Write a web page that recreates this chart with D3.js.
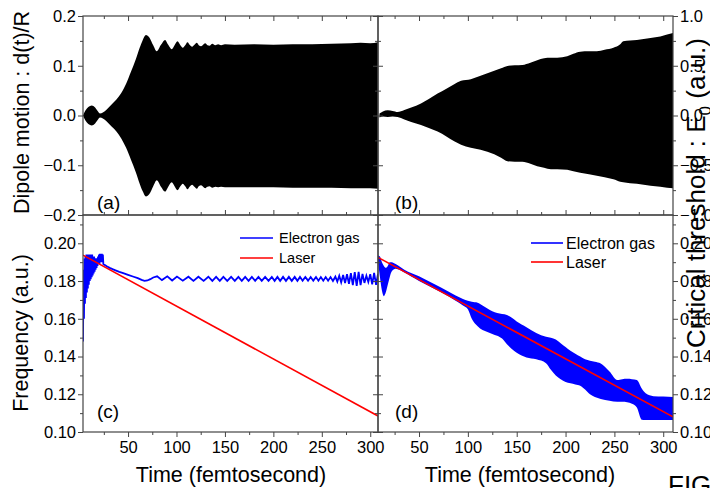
<!DOCTYPE html>
<html><head><meta charset="utf-8">
<script src="https://cdn.jsdelivr.net/npm/d3@7"></script>
<style>body{margin:0;background:#fff} svg{display:block} text{font-family:Arial,"Liberation Sans",sans-serif}</style>
</head><body><svg id="c" width="710" height="488"></svg>
<script>
// ---------- data ----------
const timeDomainLeft = [3.5, 308];
const timeDomainRight = [8, 310];
const dipoleDomain = [-0.2, 0.2];
const thresholdDomain = [-1, 1];
const freqDomain = [0.10, 0.215];

const timeTicks = [50, 100, 150, 200, 250, 300];
const timeMinor = [25, 75, 125, 175, 225, 275];
const dipoleTicks = [-0.2, -0.1, 0.0, 0.1, 0.2];
const dipoleMinor = [-0.15, -0.05, 0.05, 0.15];
const thresholdTicks = [-1.0, -0.5, 0.0, 0.5, 1.0];
const thresholdMinor = [-0.75, -0.25, 0.25, 0.75];
const freqTicks = [0.10, 0.12, 0.14, 0.16, 0.18, 0.20];
const freqMinor = [0.11, 0.13, 0.15, 0.17, 0.19, 0.21];

// (a) dipole envelope: [time, lower, upper]
const dipoleA = [
 [3.5,0,0],[6,-0.01,0.01],[9,-0.017,0.017],[12.5,-0.02,0.02],[16,-0.016,0.016],[19,-0.008,0.008],
 [21,-0.004,0.004],[24,-0.006,0.006],[28,-0.012,0.012],[33,-0.022,0.022],[38,-0.032,0.032],
 [43,-0.046,0.045],[48,-0.065,0.064],[53,-0.089,0.088],[58,-0.114,0.113],[62,-0.137,0.136],
 [65,-0.152,0.151],[68.5,-0.163,0.162],[72,-0.158,0.157],[76,-0.142,0.141],[79.6,-0.130,0.129],
 [84,-0.143,0.142],[88.2,-0.153,0.152],[91.5,-0.143,0.142],[95.1,-0.134,0.133],[98,-0.142,0.141],
 [101,-0.150,0.149],[104,-0.142,0.141],[106.5,-0.137,0.136],[109,-0.142,0.141],[111.3,-0.148,0.147],
 [114,-0.142,0.141],[116.1,-0.139,0.138],[118.5,-0.143,0.142],[121,-0.147,0.146],[123,-0.142,0.141],
 [125.4,-0.140,0.139],[127.5,-0.143,0.142],[129.6,-0.146,0.145],[132,-0.143,0.141],[134,-0.142,0.140],
 [137,-0.145,0.144],[140,-0.143,0.141],[143,-0.144,0.143],[146,-0.143,0.141],[150,-0.144,0.143],
 [160,-0.144,0.142],[180,-0.144,0.143],[200,-0.144,0.142],[220,-0.145,0.143],[240,-0.145,0.143],
 [260,-0.145,0.144],[280,-0.146,0.145],[290,-0.146,0.146],[300,-0.146,0.145],[308,-0.147,0.147]
];

// (b) dipole envelope: [time, lower, upper]
const dipoleB = [
 [9.5,-0.004,0.004],[13,-0.002,0.008],[18,-0.003,0.0105],[23,-0.002,0.009],[28,-0.003,0.007],
 [35,-0.008,0.011],[42,-0.013,0.016],[52,-0.019,0.024],[60,-0.025,0.033],[69,-0.032,0.044],
 [78,-0.042,0.054],[86,-0.052,0.063],[93,-0.059,0.070],[103,-0.065,0.073],[113,-0.069,0.080],
 [120,-0.073,0.085],[127,-0.078,0.090],[134,-0.085,0.095],[140.5,-0.092,0.0996],[148,-0.093,0.101],
 [155.8,-0.093,0.1016],[164,-0.097,0.106],[171,-0.102,0.111],[178,-0.105,0.115],[185,-0.108,0.116],
 [191.5,-0.108,0.116],[201.7,-0.109,0.119],[208,-0.112,0.124],[215,-0.115,0.128],[224,-0.118,0.129],
 [232,-0.121,0.129],[240,-0.124,0.132],[249,-0.128,0.136],[256,-0.133,0.143],[259,-0.134,0.149],
 [266,-0.136,0.151],[273,-0.137,0.152],[280,-0.139,0.154],[287,-0.141,0.156],[297,-0.143,0.159],
 [304,-0.145,0.163],[310,-0.146,0.166]
];

// (c) electron gas frequency: [time, frequency]
const electronC = [
 [3.5,0.148],[4,0.186],[4.5,0.160],[5,0.192],[5.5,0.168],[6,0.193],[6.5,0.171],[7,0.194],[7.5,0.174],
 [8,0.194],[8.5,0.176],[9,0.194],[9.5,0.178],[10,0.194],[10.5,0.180],[11,0.194],[11.5,0.181],[12,0.194],
 [12.5,0.182],[13,0.194],[13.5,0.183],[14,0.193],[14.5,0.184],[15,0.193],[15.5,0.185],[16,0.192],
 [16.5,0.186],[17,0.192],[17.5,0.187],[18,0.192],[18.5,0.188],[19,0.193],[19.5,0.189],[20,0.194],
 [20.5,0.189],[21,0.1945],[21.5,0.190],[22,0.1945],[22.5,0.190],[23,0.1945],[23.5,0.190],[24,0.194],
 [24.5,0.189],[26,0.1885],[28,0.1878],[31,0.1870],[34,0.1863],[37,0.1857],[41,0.1849],[45,0.1842],
 [50,0.1833],[55,0.1824],[60,0.1815],[64,0.1806],[67,0.1801],[70,0.1803],[73,0.1810],[76,0.1819],
 [80,0.1825],[85,0.1805],[90.5,0.1825],[95.5,0.1803],[100.5,0.1824],[106.5,0.1802],[112.3,0.1823],
 [117.5,0.1801],[122.6,0.1823],[128,0.1801],[132.9,0.1823],[137,0.1801],[140.9,0.1822],[144.7,0.1801],
 [148.4,0.1822],[152.4,0.1801],[156.4,0.1822],[160.2,0.1801],[163.9,0.1822],[167.4,0.1801],
 [170.9,0.1822],[174.4,0.1801],[177.8,0.1822],[181.2,0.1801],[184.6,0.1822],[188,0.1801],
 [191.5,0.1822],[195,0.1801],[198.4,0.1822],[201.3,0.1801],[204.2,0.1822],[207,0.1801],[210,0.1822],
 [213,0.1801],[216,0.1822],[219,0.1801],[222,0.1822],[224.8,0.1801],[227.5,0.1822],[230.2,0.1802],
 [233,0.1821],[235.8,0.1802],[238.5,0.1821],[241.2,0.1802],[244,0.1821],[246.5,0.1802],[249,0.1821],
 [251.5,0.1802],[254,0.1821],[256.5,0.1802],[259,0.1821],[261.5,0.1800],[264,0.1823],[266,0.1797],
 [268,0.1828],[270,0.1793],[272,0.1832],[274,0.1789],[276,0.1836],[278,0.1785],[280,0.1842],
 [282,0.1779],[284,0.1847],[286,0.1775],[288,0.1848],[290,0.1778],[292,0.1838],[294,0.1790],
 [296,0.1828],[298,0.1795],[300,0.1836],[302,0.1783],[304,0.1843],[306,0.1780],[308,0.1838]
];
const laserC = [[3.5,0.1937],[308,0.1085]];

// (d) electron gas frequency band: [time, lower, upper]
const electronD = [
 [8,0.1905,0.1935],[10,0.182,0.193],[12,0.175,0.190],[14,0.172,0.188],[16,0.174,0.187],
 [18,0.178,0.188],[20,0.182,0.190],[22,0.185,0.190],[26,0.1865,0.189],[35,0.1845,0.186],
 [50,0.1800,0.1825],[65,0.1760,0.1785],[80,0.1720,0.1745],[95,0.1670,0.1705],[100,0.1650,0.1695],
 [104,0.1600,0.1690],[110,0.1560,0.1685],[115,0.1540,0.1670],[120,0.1530,0.1655],[125,0.1520,0.1640],
 [130,0.1510,0.1630],[135,0.1495,0.1625],[140,0.1465,0.1620],[145,0.1440,0.1605],[150,0.1420,0.1585],
 [160,0.1395,0.1555],[170,0.1385,0.1525],[180,0.1365,0.1505],[185,0.1330,0.1500],[190,0.1300,0.1490],
 [195,0.1280,0.1470],[200,0.1265,0.1450],[205,0.1258,0.1430],[210,0.1252,0.1415],[215,0.1245,0.1400],
 [220,0.1225,0.1385],[225,0.1200,0.1378],[230,0.1185,0.1372],[236,0.1175,0.1363],[245,0.1165,0.1320],
 [253,0.1160,0.1275],[258,0.1160,0.1280],[263,0.1158,0.1282],[268,0.1150,0.1280],[273,0.1130,0.1275],
 [278,0.1065,0.1230],[282,0.1063,0.1205],[290,0.1063,0.1190],[300,0.1063,0.1188],[310,0.1063,0.1185]
];
const laserD = [[8,0.1925],[310,0.108]];

const legendLabels = ["Electron gas", "Laser"];
const panelLabels = ["(a)", "(b)", "(c)", "(d)"];

// ---------- layout ----------
const svg = d3.select("#c");
const PL = {x0:83, x1:378}, PR = {x0:378, x1:673};
const PT = {y0:16, y1:215}, PB = {y0:215, y1:432};

const xL = d3.scaleLinear().domain(timeDomainLeft).range([PL.x0, PL.x1]);
const xR = d3.scaleLinear().domain(timeDomainRight).range([PR.x0, PR.x1]);
const yDip = d3.scaleLinear().domain(dipoleDomain).range([PT.y1, PT.y0]);
const yThr = d3.scaleLinear().domain(thresholdDomain).range([PT.y1, PT.y0]);
const yFreq = d3.scaleLinear().domain(freqDomain).range([PB.y1, PB.y0]);

const defs = svg.append("defs");
function clip(id, px, py){
  defs.append("clipPath").attr("id", id).append("rect")
    .attr("x", px.x0).attr("y", py.y0).attr("width", px.x1-px.x0).attr("height", py.y1-py.y0);
  return svg.append("g").attr("clip-path", `url(#${id})`);
}

// (a)
const gA = clip("ca", PL, PT);
gA.append("path").datum(dipoleA)
  .attr("d", d3.area().curve(d3.curveMonotoneX).x(d=>xL(d[0])).y0(d=>yDip(d[1])).y1(d=>yDip(d[2])))
  .attr("fill", "#000");
// (b)
const gB = clip("cb", PR, PT);
gB.append("path").datum(dipoleB)
  .attr("d", d3.area().curve(d3.curveMonotoneX).x(d=>xR(d[0])).y0(d=>yDip(d[1])).y1(d=>yDip(d[2])))
  .attr("fill", "#000");
// (c)
const gC = clip("cc", PL, PB);
gC.append("path").datum(electronC)
  .attr("d", d3.line().x(d=>xL(d[0])).y(d=>yFreq(d[1])))
  .attr("fill", "none").attr("stroke", "#0000ff").attr("stroke-width", 1.8);
gC.append("path").datum(laserC)
  .attr("d", d3.line().x(d=>xL(d[0])).y(d=>yFreq(d[1])))
  .attr("fill", "none").attr("stroke", "#ff0000").attr("stroke-width", 1.6);
// (d)
const gD = clip("cd", PR, PB);
gD.append("path").datum(electronD)
  .attr("d", d3.area().curve(d3.curveMonotoneX).x(d=>xR(d[0])).y0(d=>yFreq(d[1])).y1(d=>yFreq(d[2])))
  .attr("fill", "#0000ff");
gD.append("path").datum(laserD)
  .attr("d", d3.line().x(d=>xR(d[0])).y(d=>yFreq(d[1])))
  .attr("fill", "none").attr("stroke", "#ff0000").attr("stroke-width", 1.6);

// ---------- axes ----------
const AX = "#444";
function drawAxis(side, scale, tx, ty, major, minor, fmt, labels, outward){
  let mk;
  if (side==="left") mk = outward ? d3.axisLeft : d3.axisRight;
  if (side==="right") mk = outward ? d3.axisRight : d3.axisLeft;
  if (side==="bottom") mk = outward ? d3.axisBottom : d3.axisTop;
  if (side==="top") mk = outward ? d3.axisTop : d3.axisBottom;
  const pad = (side==="bottom") ? 4 : 2;
  const g1 = svg.append("g").attr("transform", `translate(${tx},${ty})`)
    .call(mk(scale).tickValues(major).tickSizeInner(5).tickSizeOuter(0).tickPadding(pad)
      .tickFormat(labels ? fmt : () => ""));
  const g2 = svg.append("g").attr("transform", `translate(${tx},${ty})`)
    .call(mk(scale).tickValues(minor).tickSizeInner(3).tickSizeOuter(0).tickFormat(() => ""));
  [g1, g2].forEach(g => {
    g.select(".domain").remove();
    g.selectAll(".tick line").attr("stroke", AX).attr("stroke-width", 1);
    g.selectAll(".tick text").attr("font-size", 16.5).attr("fill", "#000")
      .attr("font-family", "Arial, 'Liberation Sans', sans-serif");
  });
}
const f1 = d3.format(".1f"), f2 = d3.format(".2f");
// (a)
drawAxis("left", yDip, PL.x0, 0, dipoleTicks, dipoleMinor, f1, true, true);
drawAxis("right", yDip, PL.x1, 0, dipoleTicks, dipoleMinor, f1, false, false);
drawAxis("top", xL, 0, PT.y0, timeTicks, timeMinor, null, false, false);
drawAxis("bottom", xL, 0, PT.y1, timeTicks, timeMinor, null, false, false);
// (b)
drawAxis("right", yThr, PR.x1, 0, thresholdTicks, thresholdMinor, f1, true, true);
drawAxis("left", yThr, PR.x0, 0, thresholdTicks, thresholdMinor, f1, false, false);
drawAxis("top", xR, 0, PT.y0, timeTicks, timeMinor, null, false, false);
drawAxis("bottom", xR, 0, PT.y1, timeTicks, timeMinor, null, false, false);
// (c)
drawAxis("left", yFreq, PL.x0, 0, freqTicks, freqMinor, f2, true, true);
drawAxis("right", yFreq, PL.x1, 0, freqTicks, freqMinor, f2, false, false);
drawAxis("bottom", xL, 0, PB.y1, timeTicks, timeMinor, d3.format("d"), true, true);
// (d)
drawAxis("right", yFreq, PR.x1, 0, freqTicks, freqMinor, f2, true, true);
drawAxis("left", yFreq, PR.x0, 0, freqTicks, freqMinor, f2, false, false);
drawAxis("bottom", xR, 0, PB.y1, timeTicks, timeMinor, d3.format("d"), true, true);

// frames
[[PL,PT],[PR,PT],[PL,PB],[PR,PB]].forEach(([px,py]) => {
  svg.append("rect").attr("x", px.x0).attr("y", py.y0)
    .attr("width", px.x1-px.x0).attr("height", py.y1-py.y0)
    .attr("fill", "none").attr("stroke", AX).attr("stroke-width", 1.2);
});

// ---------- texts ----------
function rotText(x, y, size, str){
  return svg.append("text").attr("transform", `translate(${x},${y}) rotate(-90)`)
    .attr("text-anchor", "middle").attr("font-size", size).attr("fill", "#000").text(str);
}
rotText(28.5, 112.5, 21.5, "Dipole motion : d(t)/R");
rotText(27.5, 333, 21.5, "Frequency (a.u.)");
const rt = svg.append("text").attr("transform", "translate(705,193) rotate(-90)")
  .attr("text-anchor", "middle").attr("font-size", 26).attr("fill", "#000");
rt.append("tspan").text("Critical threshold : E");
rt.append("tspan").attr("font-size", 17).attr("dy", 6).text("0");
rt.append("tspan").attr("dy", -6).text(" (a.u.)");

svg.append("text").attr("x", 231).attr("y", 482).attr("text-anchor", "middle")
  .attr("font-size", 21.5).text("Time (femtosecond)");
svg.append("text").attr("x", 520).attr("y", 482).attr("text-anchor", "middle")
  .attr("font-size", 21.5).text("Time (femtosecond)");

const plPos = [[97,209],[395,209],[97,418],[395,418]];
panelLabels.forEach((s,i) => svg.append("text").attr("x", plPos[i][0]).attr("y", plPos[i][1])
  .attr("font-size", 19).text(s));

// legends
const legC = {x0:240, x1:273, tx:279, ys:[238,258], fs:14.5};
const legD = {x0:531, x1:563, tx:566, ys:[243,262], fs:16};
const legColors = ["#0000ff", "#ff0000"];
[legC, legD].forEach(L => {
  legendLabels.forEach((s,i) => {
    svg.append("line").attr("x1", L.x0).attr("x2", L.x1).attr("y1", L.ys[i]).attr("y2", L.ys[i])
      .attr("stroke", legColors[i]).attr("stroke-width", 1.6);
    svg.append("text").attr("x", L.tx).attr("y", L.ys[i]).attr("dy", "0.35em")
      .attr("font-size", L.fs).text(s);
  });
});

svg.append("text").attr("x", 668).attr("y", 494).attr("font-size", 26)
  .attr("font-family", "'Liberation Serif', 'Times New Roman', serif").text("FIG");
</script></body></html>
